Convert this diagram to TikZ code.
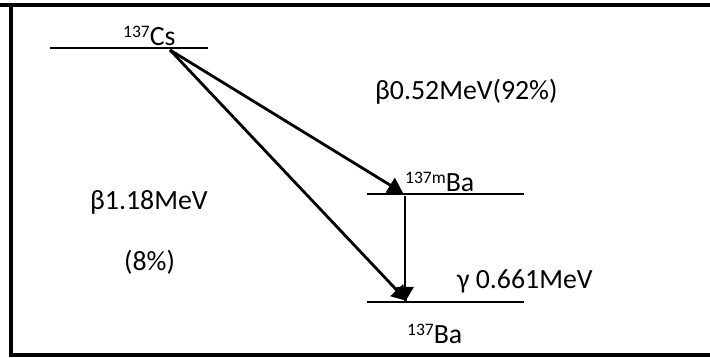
\documentclass[tikz,border=0pt]{standalone}
\usepackage{fontspec}
\setmainfont{Carlito}
\usepackage{tikz}
\usetikzlibrary{arrows.meta}
\newcommand{\mass}[1]{\raisebox{8.5pt}{\fontsize{17.5}{20}\selectfont #1}}

\begin{document}
\begin{tikzpicture}[x=1pt,y=-1pt]
		\tikzstyle{level} = [line width=2pt]
		\tikzstyle{decay} = [-{Triangle[length=15pt,width=17pt]}, line width=2.8pt]
		\tikzstyle{frame} = [line width=4pt]
		\tikzstyle{invisible} = [outer sep=0,inner sep=0,minimum size=0]
		\tikzstyle{txt} = [inner sep=0, anchor=base west, font=\fontsize{27.8}{33}\selectfont]
		\useasboundingbox (0,0) rectangle (710,358);
		% frame, open on the right
		\draw [frame] (0,5) -- (710,5);
		\draw [frame] (11,5) -- (11,355) -- (710,355);
		% levels
		\node [invisible] (v11) at (50,48) {};
		\node [invisible] (v12) at (208,48) {};
		\node [invisible] (v21) at (367,194) {};
		\node [invisible] (v22) at (524,194) {};
		\node [invisible] (v31) at (367,302) {};
		\node [invisible] (v32) at (524,302) {};
		\draw [level] (v11) edge (v12);
		\draw [level] (v21) edge (v22);
		\draw [level] (v31) edge (v32);
		% transitions
		\node [invisible] (v1) at (170,50) {};
		\node [invisible] (v2) at (403,193) {};
		\node [invisible] (v3) at (407,301) {};
		\node [invisible] (v4) at (405,196) {};
		\node [invisible] (v5) at (405,302) {};
		\draw [decay] (v1) edge (v2);
		\draw [decay] (v1) edge (v3);
		\draw [decay] (v4) edge (v5);
		% texts
		\node [txt] (v6) at (123,46) {\mass{137}Cs};
		\node [txt] (v7) at (405,192) {\mass{137m}Ba};
		\node [txt] (v8) at (407,344) {\mass{137}Ba};
		\node [txt] (v9) at (375,100) {β0.52MeV(92\%)};
		\node [txt] (v10) at (90,210) {β1.18MeV};
		\node [txt] (v13) at (124,271) {(8\%)};
		\node [txt] (v14) at (457,289) {γ 0.661MeV};
		\end{tikzpicture}
\end{document}
